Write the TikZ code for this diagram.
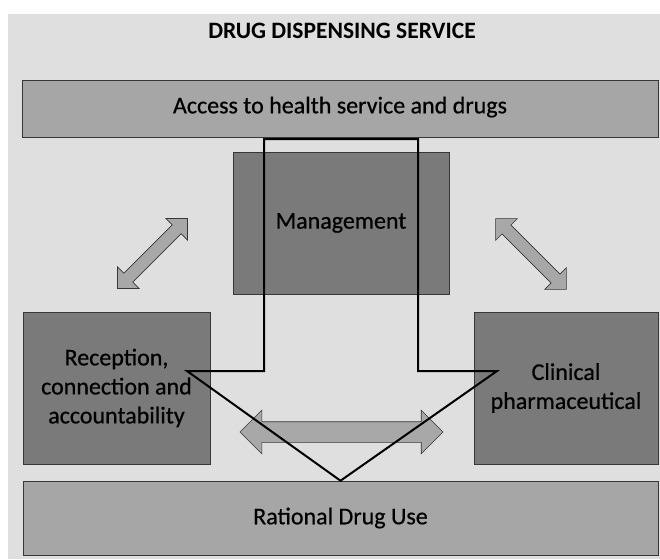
\documentclass[tikz,border=0pt]{standalone}
\usepackage{fontspec}
\setmainfont{Carlito}
\newfontfamily\boxfont[FakeBold=0.6]{Carlito}
\usetikzlibrary{shapes.arrows, calc}

\definecolor{bggray}{RGB}{223,223,223}
\definecolor{lightfill}{RGB}{166,166,166}
\definecolor{darkfill}{RGB}{122,122,122}
\definecolor{arrowfill}{RGB}{168,168,168}
\definecolor{edgegray}{RGB}{55,55,55}

\begin{document}
\begin{tikzpicture}[x=1pt, y=-1pt,
    box/.style={draw=edgegray, line width=0.6pt, inner sep=0pt, align=center,
        font=\boxfont\fontsize{24}{29}\selectfont},
    lightbox/.style={box, fill=lightfill},
    darkbox/.style={box, fill=darkfill},
    dblarrow/.style={shape=double arrow, draw=edgegray, fill=arrowfill, line width=0.6pt,
        inner sep=6pt, double arrow head extend=9pt, double arrow tip angle=90}]
    \useasboundingbox (0,0) rectangle (660,559);
    \fill[bggray] (8,14) rectangle (660,559);
    \node[font=\bfseries\fontsize{23.5}{28}\selectfont] (title) at (342,31) {DRUG DISPENSING SERVICE};
    \node[lightbox, minimum width=636, minimum height=57, text depth=7pt] (access) at (340,108.5)
        {Access to health service and drugs};
    \node[darkbox, minimum width=216, minimum height=142] (mgmt) at (341,223)
        {Management};
    \node[darkbox, minimum width=187, minimum height=152] (recep) at (116.5,388)
        {Reception,\\connection and\\accountability};
    \node[darkbox, minimum width=184, minimum height=152] (clinic) at (566,388)
        {Clinical\\pharmaceutical};
    \node[lightbox, minimum width=635, minimum height=74] (rdu) at (340.5,518)
        {Rational Drug Use};
    \node[dblarrow, minimum height=99, rotate=45] (leftarr) at (152.5,253.5) {};
    \node[dblarrow, minimum height=100, rotate=-45] (rightarr) at (531,254) {};
    \node[dblarrow, minimum height=203, inner sep=10pt, double arrow head extend=11.5pt] (midarr) at (341.5,432) {};
    \coordinate (tip) at (rdu.north);
    \draw[line width=2pt, line join=miter]
        (264,139) -- (264,371) -- (187,371) -- (tip) -- (497,371) -- (418,371) -- (418,139) -- cycle;
\end{tikzpicture}
\end{document}
